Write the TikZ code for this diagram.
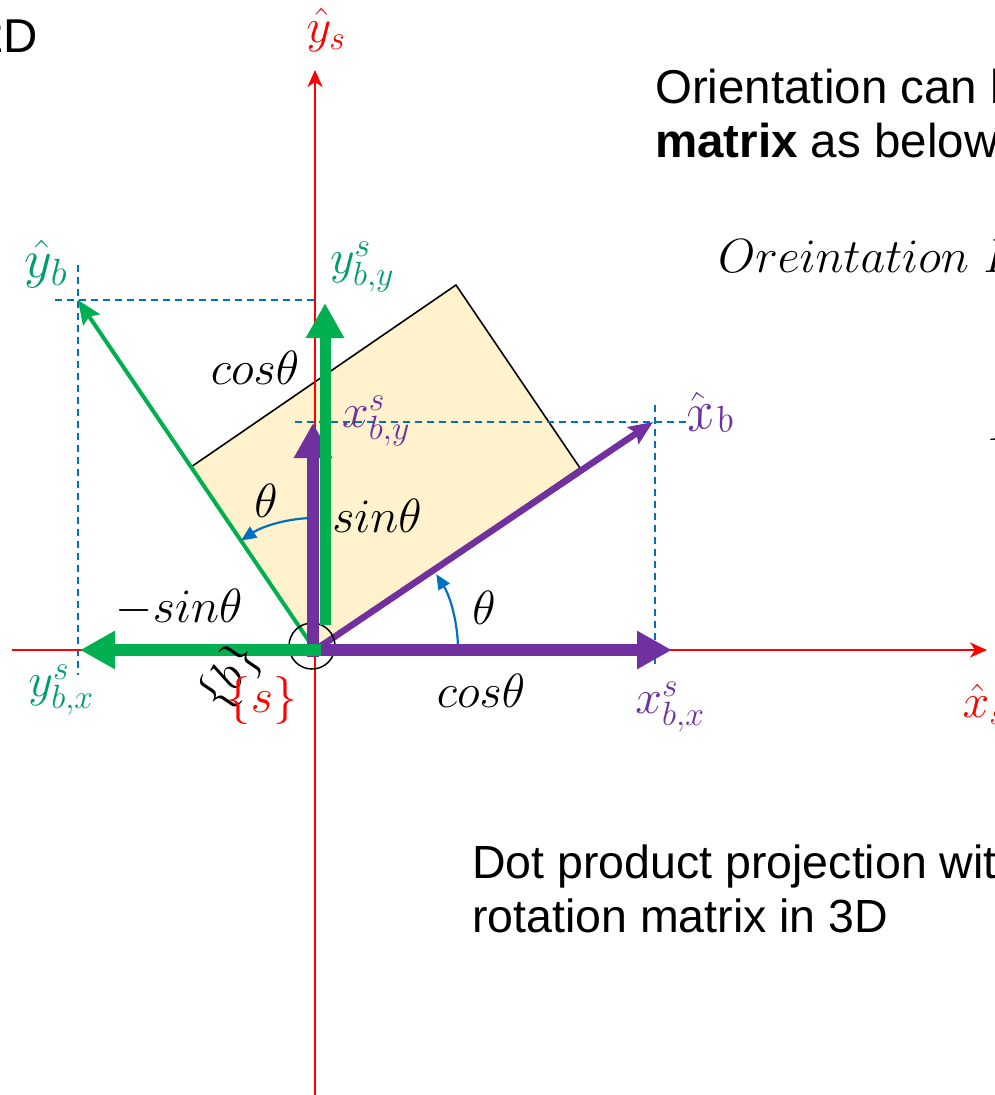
\RequirePackage{fix-cm}
\documentclass[tikz,border=0pt]{standalone}
\usepackage{fontspec}
\newfontfamily\arial{Liberation Sans}
\usetikzlibrary{arrows.meta}
\definecolor{sred}{RGB}{255,0,0}
\definecolor{bgreen}{RGB}{0,176,80}
\definecolor{bpurple}{RGB}{112,48,160}
\definecolor{bblue}{RGB}{0,112,192}
\definecolor{tealb}{RGB}{0,155,115}
\definecolor{boxfill}{RGB}{255,242,204}
\tikzset{
  axis/.style={draw=sred, line width=2.5pt, -{Stealth[length=17pt,width=15pt,inset=5pt]}},
  proj/.style={draw=bblue, line width=1.6pt, dash pattern=on 7pt off 5pt},
  thick arrow/.style={line width=12pt, line cap=butt, -{Triangle[length=35pt,width=36pt]}},
  thin arrow/.style={line cap=butt, -{Stealth[length=24pt,width=20pt,inset=4pt]}},
  anglearc/.style={draw=bblue, line width=2.2pt, -{Triangle[length=15pt,width=13pt]}},
  mlbl/.style={inner sep=0pt, font=\fontsize{48}{52}\selectfont},
  txt/.style={inner sep=0pt, font=\arial\fontsize{47.5}{54}\selectfont},
}
\begin{document}
\begin{tikzpicture}[x=1pt,y=-1pt]
\useasboundingbox (0,0) rectangle (995,1095);
\clip (0,0) rectangle (995,1095);
% key points
\coordinate (O) at (315,650);
\coordinate (RA) at (580,468);
\coordinate (RT) at (456,285);
\coordinate (RB) at (191,467);
\coordinate (XB) at (653,422);
\coordinate (YB) at (78,300);
% body rectangle
\filldraw[fill=boxfill, draw=black, line width=1.6pt] (O) -- (RA) -- (RT) -- (RB) -- cycle;
% projection lines
\coordinate (h1a) at (55,300); \coordinate (h1b) at (315,300);
\coordinate (v1a) at (78,265); \coordinate (v1b) at (78,675);
\coordinate (h2a) at (295,422); \coordinate (h2b) at (690,422);
\coordinate (v2a) at (655,405); \coordinate (v2b) at (655,665);
\draw[proj] (h1a) -- (h1b);
\draw[proj] (v1a) -- (v1b);
\draw[proj] (h2a) -- (h2b);
\draw[proj] (v2a) -- (v2b);
% space axes
\coordinate (xs0) at (12,650); \coordinate (xs1) at (987,650);
\coordinate (ys0) at (315,1095); \coordinate (ys1) at (315,70);
\draw[axis] (xs0) -- (xs1);
\draw[axis] (ys0) -- (ys1);
% body axes
\draw[thin arrow, draw=bgreen, fill=bgreen, line width=4pt] (O) -- (YB);
\draw[thin arrow, draw=bpurple, fill=bpurple, line width=6.5pt] (O) -- (XB);
% origin circle
\draw[black, line width=1.5pt] (312,646) circle[radius=23];
% angle arcs
\draw[anglearc] (O) ++(143,0) arc[start angle=0, end angle=-32, radius=143];
\draw[anglearc] (O) ++(-4.6,-132) arc[start angle=-92, end angle=-124, radius=132];
% projection components
\coordinate (pv0) at (313,657); \coordinate (pv1) at (313,423);
\coordinate (gv0) at (325,625); \coordinate (gv1) at (325,303);
\coordinate (ph0) at (309,650); \coordinate (ph1) at (672,650);
\coordinate (gh0) at (321,650); \coordinate (gh1) at (80,650);
\draw[thick arrow, draw=bpurple, fill=bpurple] (pv0) -- (pv1);
\draw[thick arrow, draw=bgreen, fill=bgreen, line width=11pt] (gv0) -- (gv1);
\draw[thick arrow, draw=bpurple, fill=bpurple] (ph0) -- (ph1);
\draw[thick arrow, draw=bgreen, fill=bgreen] (gh0) -- (gh1);
% labels
\node[mlbl, text=sred] (lys) at (326,30) {$\hat{y}_s$};
\node[mlbl, text=sred] (lxs) at (984,704) {$\hat{x}_s$};
\node[mlbl, text=tealb, font=\fontsize{54}{58}\selectfont] (lyb) at (46,264) {$\hat{y}_b$};
\node[mlbl, text=bpurple, font=\fontsize{54}{58}\selectfont, rotate=12] (lxb) at (708,413) {$\hat{x}_b$};
\node[mlbl, text=tealb] (lyby) at (362,267) {$y^s_{b,y}$};
\node[mlbl, text=bpurple] (lxby) at (376,421) {$x^s_{b,y}$};
\node[mlbl, text=tealb] (lybx) at (61,690) {$y^s_{b,x}$};
\node[mlbl, text=bpurple] (lxbx) at (670,707) {$x^s_{b,x}$};
\node[mlbl] (lcos1) at (255,368) {$cos\theta$};
\node[mlbl] (lsin1) at (377,516) {$sin\theta$};
\node[mlbl] (lth1) at (266,501) {$\theta$};
\node[mlbl] (lmsin) at (179,608) {$-sin\theta$};
\node[mlbl] (lth2) at (484,608) {$\theta$};
\node[mlbl] (lcos2) at (481,691) {$cos\theta$};
\node[mlbl, rotate=56] (lb) at (231,677) {$\{b\}$};
\node[mlbl, text=sred] (ls) at (262,700) {$\{s\}$};
% texts
\node[txt, anchor=base east] (t2d) at (38,52) {2D};
\node[txt, anchor=base west] (t1) at (655,103) {Orientation can be};
\node[txt, anchor=base west] (t2) at (655,157) {\bfseries matrix\mdseries{} as below};
\node[mlbl, anchor=base west] (t3) at (718,272) {$Oreintation\ R$};
\node[mlbl, anchor=base west] (t4) at (988,440) {$R$};
\node[txt, anchor=base west, font=\arial\fontsize{46.5}{54}\selectfont] (t5) at (472,878) {Dot product projection with};
\node[txt, anchor=base west, font=\arial\fontsize{46.5}{54}\selectfont] (t6) at (472,932) {rotation matrix in 3D};
\end{tikzpicture}
\end{document}
